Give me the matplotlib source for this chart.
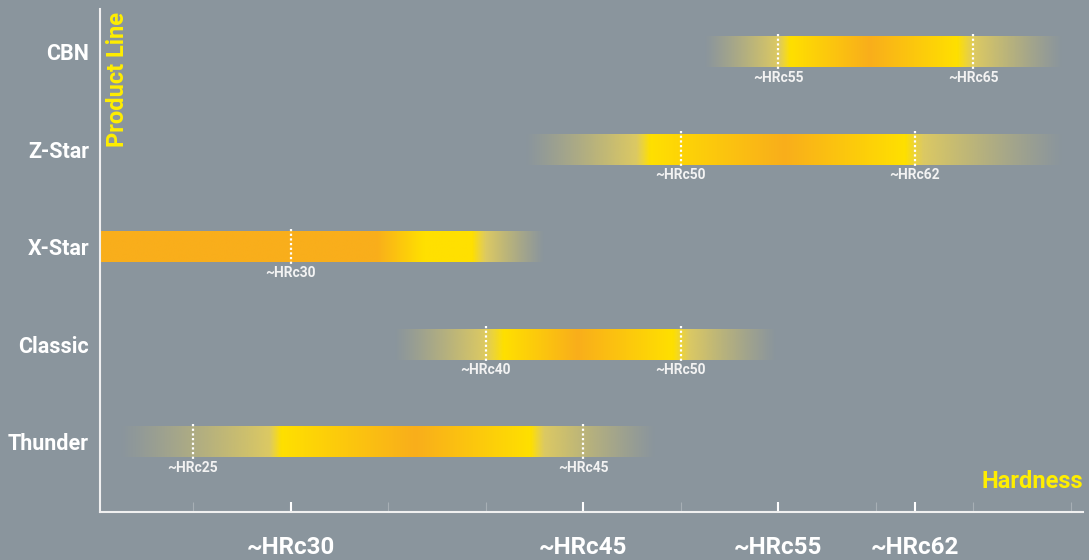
import numpy as np
import matplotlib
matplotlib.use('Agg')
import matplotlib.pyplot as plt
from matplotlib.colors import to_rgb

# ---------------- data ----------------
products = ['CBN', 'Z-Star', 'X-Star', 'Classic', 'Thunder']

# gradient stops per product: (HRc, colour key, opacity)
cbn_stops = [(51.2, 'p', 0), (55.0, 'p', 0.7), (55.6, 'y', 1), (59.7, 'o', 1),
             (64.2, 'y', 1), (65.1, 'p', 0.7), (69.6, 'p', 0)]
zstar_stops = [(42.0, 'p', 0), (47.7, 'p', 0.7), (48.4, 'y', 1), (55.3, 'o', 1),
               (61.5, 'y', 1), (62.4, 'p', 0.7), (69.6, 'p', 0)]
xstar_stops = [(10.0, 'o', 1), (34.4, 'o', 1), (36.8, 'y', 1), (39.3, 'y', 1),
               (40.0, 'p', 0.7), (43.0, 'p', 0)]
classic_stops = [(35.3, 'p', 0), (39.9, 'p', 0.7), (40.9, 'y', 1), (44.7, 'o', 1),
                 (49.6, 'y', 1), (50.4, 'p', 0.7), (54.9, 'p', 0)]
thunder_stops = [(21.2, 'p', 0), (28.9, 'p', 0.7), (29.5, 'y', 1), (36.4, 'o', 1),
                 (42.3, 'y', 1), (43.0, 'p', 0.7), (48.7, 'p', 0)]
bar_stops = [cbn_stops, zstar_stops, xstar_stops, classic_stops, thunder_stops]

# hardness markers per product
markers = [[55, 65], [50, 62], [30], [40, 50], [25, 45]]

major_ticks = [30, 45, 55, 62]
major_labels = ['~HRc30', '~HRc45', '~HRc55', '~HRc62']
minor_ticks = [25, 35, 40, 50, 60, 65, 70]

# ---------------- style ----------------
BG = '#8A959D'
YELLOW = '#FFE000'
ORANGE = '#F9AE1B'
PALE = '#FFE04A'
TITLE_YELLOW = '#FFEE00'
palette = {'y': np.array(to_rgb(YELLOW)), 'o': np.array(to_rgb(ORANGE)),
           'p': np.array(to_rgb(PALE))}
FONT = ['Roboto', 'DejaVu Sans']
plt.rcParams['font.family'] = FONT

fig = plt.figure(figsize=(10.89, 5.60), dpi=100, facecolor=BG)
ax = fig.add_axes([100 / 1089, 48 / 560, 983 / 1089, 503 / 560])
ax.set_facecolor(BG)

xmin, xmax = 20.23, 70.62

half_h = 0.154
for i, stops in enumerate(bar_stops):
    pos = np.array([s[0] for s in stops])
    cols = np.array([palette[s[1]] for s in stops])
    alph = np.array([s[2] for s in stops], dtype=float)
    xs = np.linspace(pos[0], pos[-1], 1500)
    img = np.zeros((2, len(xs), 4))
    for c in range(3):
        img[:, :, c] = np.interp(xs, pos, cols[:, c])
    a = np.interp(xs, pos, alph)
    soft = a <= 0.7
    a[soft] = 0.7 * (a[soft] / 0.7) ** 1.15
    img[:, :, 3] = a
    ax.imshow(img, extent=[pos[0], pos[-1], i + half_h, i - half_h],
              aspect='auto', interpolation='bilinear', zorder=2)
    for m in markers[i]:
        ax.plot([m, m], [i - half_h - 0.035, i + half_h + 0.025], color='white',
                lw=1.6, linestyle=(0, (1.0, 1.1)), zorder=3,
                dash_capstyle='butt')
        ax.text(m, i + 0.262, '~HRc%d' % m, ha='center', va='center',
                color='#F2F2F2', fontsize=10, fontweight='bold', zorder=4)

ax.set_xlim(xmin, xmax)
ax.set_ylim(4.718, -0.441)

# axes styling
for s in ['top', 'right']:
    ax.spines[s].set_visible(False)
for s in ['left', 'bottom']:
    ax.spines[s].set_color('#F0F0F0')
    ax.spines[s].set_linewidth(1.5)

ax.set_xticks(major_ticks)
ax.set_xticklabels(major_labels)
ax.set_xticks(minor_ticks, minor=True)
ax.tick_params(axis='x', which='major', direction='in', length=7.5, width=1.5,
               colors='white', labelsize=17.4, pad=17)
ax.tick_params(axis='x', which='minor', direction='in', length=7.5, width=0.8,
               color=(1, 1, 1, 0.25))
for lab in ax.get_xticklabels():
    lab.set_fontweight('bold')

ax.set_yticks(range(len(products)))
ax.set_yticklabels(products)
ax.tick_params(axis='y', length=0, pad=8, labelsize=15.5, labelcolor='white')
for lab in ax.get_yticklabels():
    lab.set_fontweight('bold')

ax.text(0.0173, 0.994, 'Product Line', rotation=90, transform=ax.transAxes,
        ha='center', va='top', color=TITLE_YELLOW, fontsize=17, fontweight='bold')
ax.text(1.0, 0.0477, 'Hardness', transform=ax.transAxes, ha='right',
        va='baseline', color=TITLE_YELLOW, fontsize=17, fontweight='bold')

fig.savefig('out.png', dpi=100, facecolor=BG)
